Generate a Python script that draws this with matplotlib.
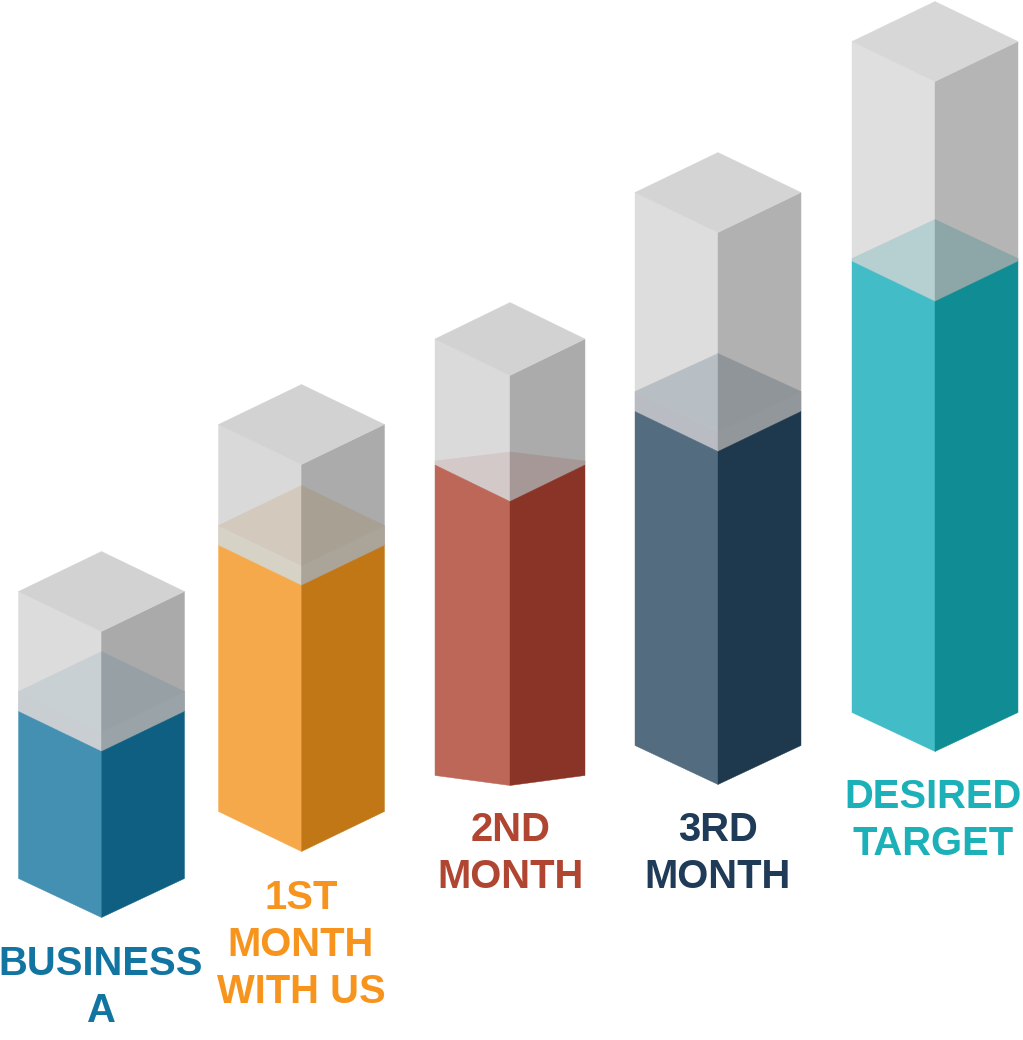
#!/usr/bin/env python3
import matplotlib
matplotlib.use("Agg")
import matplotlib.pyplot as plt

# Chart data, heights read on an upward scale
categories = ["BUSINESS\nA", "1ST\nMONTH\nWITH US", "2ND\nMONTH", "3RD\nMONTH", "DESIRED\nTARGET"]
bar_bottom = [122.5, 188.5, 254.5, 255.5, 288.5]
fill_top = [288.5, 454.5, 538.5, 588.5, 738.5]
glass_top = [408.5, 575.5, 664.5, 807.5, 958.5]

# Layout
centers = [101.5, 301.5, 510, 718, 935]
half_widths = [83, 83, 75, 83, 83]
depths = [40, 40, 36.5, 40, 40]
bottom_depths = [39, 40, 10, 39, 39]
floor_lift = [20, 20, 4, 20, 3]
floor_back = [40, 40, 9, 38, 39]
label_y = [1040 - 987.5, 1040 - 945, 1040 - 853.5, 1040 - 853.5, 1040 - 820.5]
label_x = [101, 301, 511, 718, 933]

# Colours
left_colors = ["#4390b3", "#f5a94a", "#bd6759", "#536c80", "#42bcc6"]
right_colors = ["#0f5f82", "#c27716", "#8a3427", "#1e394d", "#0f8c94"]
label_colors = ["#1274a0", "#f7941d", "#b04632", "#1f3b57", "#1cb0b8"]
glass_left = ["#dcdcdc", "#d9d9d9", "#dadada", "#dddddd", "#dfdfdf"]
glass_right = ["#aaaaaa", "#ababab", "#ababab", "#b1b1b1", "#b5b5b5"]
glass_lid = ["#d2d2d2", "#d2d2d2", "#d2d2d2", "#d4d4d4", "#d7d7d7"]
floor_left = ["#c8d0d3", "#d3c9bd", "#d3c9c8", "#b8bfc4", "#b6cfd1"]
floor_right = ["#97a1a5", "#a9a094", "#a59896", "#8f9599", "#8da6a7"]
band_left = ["#c9ced2", "#d6d2c6", "#d3c9c8", "#b9bdc3", "#b6cfd1"]
band_right = ["#9aa3a7", "#aba498", "#a59896", "#92979b", "#8da6a7"]


def face(ax, pts, color):
    xs = [p[0] for p in pts]
    ys = [p[1] for p in pts]
    # thin edge of the same colour hides seams between the faces
    ax.fill(xs, ys, color=color, linewidth=0.3)


def draw_bar(ax, i):
    cx = centers[i]
    hw = half_widths[i]
    d = depths[i]
    x0, x1 = cx - hw, cx + hw
    low = bar_bottom[i]
    low_side = low + bottom_depths[i]
    fill = fill_top[i]
    fill_side = fill + d
    top = glass_top[i]
    top_side = top + d
    floor_side = fill_side + floor_lift[i]
    floor_front = fill + floor_lift[i] if i != 2 else fill
    floor_b = floor_side + floor_back[i]

    # glass part
    face(ax, [(x0, fill_side), (cx, fill), (cx, top), (x0, top_side)], glass_left[i])
    face(ax, [(x1, fill_side), (cx, fill), (cx, top), (x1, top_side)], glass_right[i])
    face(ax, [(x0, top_side), (cx, top), (x1, top_side), (cx, top + 2 * d)], glass_lid[i])

    # band and floor seen through the glass
    face(ax, [(x0, fill_side), (cx, fill), (cx, floor_front), (x0, floor_side)], band_left[i])
    face(ax, [(x1, fill_side), (cx, fill), (cx, floor_front), (x1, floor_side)], band_right[i])
    face(ax, [(x0, floor_side), (cx, floor_front), (cx, floor_b)], floor_left[i])
    face(ax, [(x1, floor_side), (cx, floor_front), (cx, floor_b)], floor_right[i])

    # filled part
    face(ax, [(x0, low_side), (cx, low), (cx, fill), (x0, fill_side)], left_colors[i])
    face(ax, [(x1, low_side), (cx, low), (cx, fill), (x1, fill_side)], right_colors[i])


def main():
    fig = plt.figure(figsize=(10.23, 10.40), dpi=100)
    ax = fig.add_axes([0, 0, 1, 1])
    ax.set_xlim(0, 1023)
    ax.set_ylim(0, 1040)
    ax.axis("off")

    for i in range(len(categories)):
        draw_bar(ax, i)
        ax.text(label_x[i], label_y[i], categories[i], ha="center", va="center",
                multialignment="center", color=label_colors[i], fontsize=28.8,
                fontweight="bold", family="Liberation Sans", linespacing=1.31)

    fig.savefig("out.png", dpi=100)


if __name__ == "__main__":
    main()
